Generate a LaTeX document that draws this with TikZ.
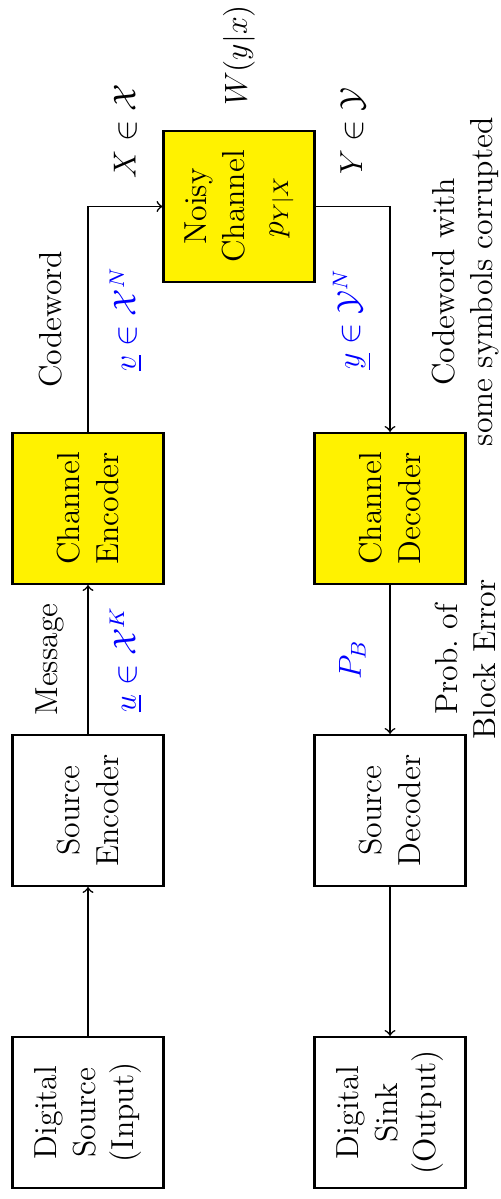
\documentclass[tikz,border=0pt,12pt]{standalone}
\usepackage{amsmath}
\usepackage{amssymb}
\usepackage{tikz}
\usetikzlibrary{positioning}

\begin{document}
\begin{tikzpicture}[%
>=to,
rotate=90,
transform shape,
node distance=4cm,
on grid,
block/.style={draw,thick,minimum size=2cm,align=center},
yblock/.style={block,fill=yellow},
link/.style={->,semithick}
]
\useasboundingbox (-1.146,-5.457) rectangle (14.735,1.166);

\node[block] (src) {Digital\\Source\\(Input)};
\node[block] (senc) [right=of src] {Source\\Encoder};
\node[yblock] (cenc) [right=of senc] {Channel\\Encoder};
\node[yblock] (chan) [below right=2cm and 4cm of cenc] {Noisy\\Channel\\$p_{Y|X}$};
\node[block] (sink) [below=of src] {Digital\\Sink\\(Output)};
\node[block] (sdec) [right=of sink] {Source\\Decoder};
\node[yblock] (cdec) [right=of sdec] {Channel\\Decoder};
\node (law) [right=2cm of chan] {$W(y|x)$};

\path[link] (src) edge (senc);
\draw[link] (senc) -- node[yshift=5mm] (msg) {Message}
  node[yshift=-5mm,blue] (u) {$\underline{u}\in\mathcal{X}^K$} (cenc);
\draw[link] (cenc) -| node[pos=0.25,yshift=5mm] (cw) {Codeword}
  node[pos=0.25,yshift=-5mm,blue] (v) {$\underline{v}\in\mathcal{X}^N$}
  node[pos=0.75,xshift=1cm] (x) {$X\in\mathcal{X}$} (chan);
\draw[link] (chan) |- node[pos=0.25,xshift=1cm] (y) {$Y\in\mathcal{Y}$}
  node[pos=0.75,yshift=5mm,blue] (yv) {$\underline{y}\in\mathcal{Y}^N$}
  node[pos=0.667,yshift=-1cm,align=center] (cwc) {Codeword with\\some symbols corrupted} (cdec);
\draw[link] (cdec) -- node[yshift=5mm,blue] (pb) {$P_B$}
  node[yshift=-1cm,align=center] (prob) {Prob.\ of\\Block Error} (sdec);
\path[link] (sdec) edge (sink);

\end{tikzpicture}
\end{document}
